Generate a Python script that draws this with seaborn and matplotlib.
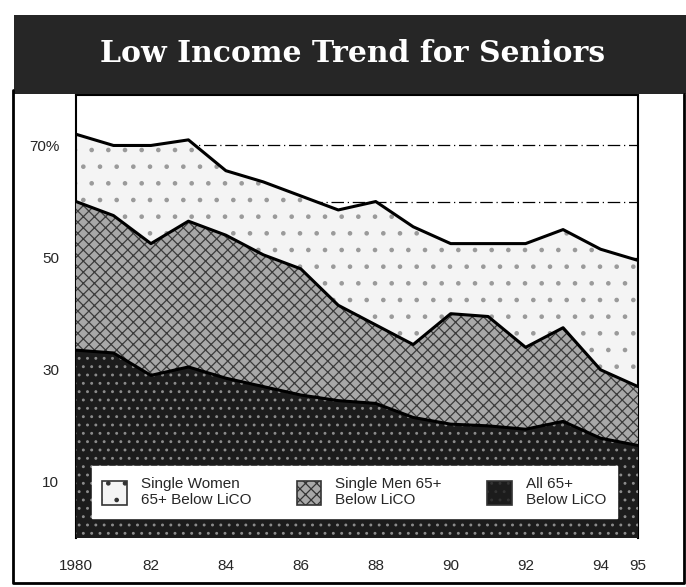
import matplotlib
matplotlib.use("Agg")
import matplotlib.pyplot as plt
from matplotlib.patches import Rectangle, Patch
from matplotlib.lines import Line2D
import seaborn as sns
import pandas as pd

# values (percent below LICO)
years = list(range(1980, 1996))
single_women = [72, 70, 70, 71, 65.5, 63.5, 61, 58.5, 60, 55.5, 52.5, 52.5, 52.5, 55, 51.5, 49.5]
single_men = [60, 57.5, 52.5, 56.5, 54, 50.5, 48, 41.5, 38, 34.5, 40, 39.5, 34, 37.5, 30, 27]
all_65 = [33.5, 33, 29, 30.5, 28.5, 27, 25.5, 24.5, 24, 21.5, 20.3, 20, 19.4, 20.8, 17.8, 16.5]

x_ticks = [1980, 1982, 1984, 1986, 1988, 1990, 1992, 1994, 1995]
x_labels = ['1980', '82', '84', '86', '88', '90', '92', '94', '95']
y_ticks = [10, 30, 50, 70]
y_labels = ['10', '30', '50', '70%']
series_labels = ['Single Women\n65+ Below LiCO', 'Single Men 65+\nBelow LiCO', 'All 65+\nBelow LiCO']

sns.set_theme(style="white")
plt.rcParams['font.family'] = ['Liberation Sans', 'DejaVu Sans']
plt.rcParams['hatch.linewidth'] = 0.9

df = pd.DataFrame({'year': years, 'women': single_women, 'men': single_men, 'all': all_65})

W, H = 686, 587
fig = plt.figure(figsize=(W / 100, H / 100), dpi=100)
ax = fig.add_axes([76 / W, 1 - 538 / H, 562 / W, 443 / H])

# fills: halftone-ish look with hatches
styles = {
    'women': dict(facecolor='#f4f4f4', edgecolor='#9a9a9a', hatch='.'),
    'men': dict(facecolor='#a8a8a8', edgecolor='#3c3c3c', hatch='xxx'),
    'all': dict(facecolor='#1c1c1c', edgecolor='#8c8c8c', hatch='..'),
}
for z, col in enumerate(['women', 'men', 'all']):
    ax.fill_between(df['year'], 0, df[col], linewidth=0, zorder=2 + z, **styles[col])
    sns.lineplot(data=df, x='year', y=col, color='black', lw=2.2, ax=ax, zorder=2.5 + z)

ax.set_xlim(1980, 1995)
ax.set_ylim(0, 79)
ax.set_xlabel('')
ax.set_ylabel('')

ax.set_yticks(y_ticks)
ax.set_yticklabels(y_labels)
ax.set_yticks([20, 40, 60], minor=True)
ax.grid(True, which='both', axis='y', color='black', lw=0.9, ls=(0, (10, 3, 1, 3)), zorder=1)
ax.grid(False, axis='x')

ax.set_xticks(x_ticks)
ax.set_xticklabels(x_labels)
ax.tick_params(axis='x', length=3, width=1, direction='out', pad=12, labelsize=11, color='black')
ax.tick_params(axis='y', length=0, pad=12, labelsize=11)
ax.tick_params(which='minor', length=0)

for s in ['left', 'top', 'right']:
    ax.spines[s].set_color('black')
    ax.spines[s].set_linewidth(1.5)
ax.spines['bottom'].set_visible(False)

handles = [Patch(linewidth=1.2, **{**styles[c], 'edgecolor': '#333333'}) for c in ['women', 'men', 'all']]
leg = ax.legend(handles, series_labels, ncol=3, loc='lower left',
                bbox_to_anchor=(0.028, 0.045),
                fontsize=11, frameon=True, fancybox=False, framealpha=1,
                handlelength=1.6, handleheight=2.1, handletextpad=0.9,
                columnspacing=3.0, borderpad=0.7, borderaxespad=0)
leg.get_frame().set_facecolor('white')
leg.get_frame().set_edgecolor('white')
leg.set_zorder(10)

# title banner and outer frame (left, bottom, right)
fig.patches.append(Rectangle((14 / W, 1 - 94 / H), (W - 14) / W, 79 / H,
                             transform=fig.transFigure, facecolor='#262626', edgecolor='none'))
fig.lines.append(Line2D([13 / W, 13 / W, 684 / W, 684 / W], [1 - 90 / H, 1 - 583 / H, 1 - 583 / H, 1 - 94 / H],
                        transform=fig.transFigure, color='black', lw=2))
fig.text(353 / W, 1 - 53 / H, 'Low Income Trend for Seniors', color='white', ha='center', va='center',
         fontsize=21.5, fontweight='bold', family=['DejaVu Serif'])

fig.savefig('out.png', dpi=100)
